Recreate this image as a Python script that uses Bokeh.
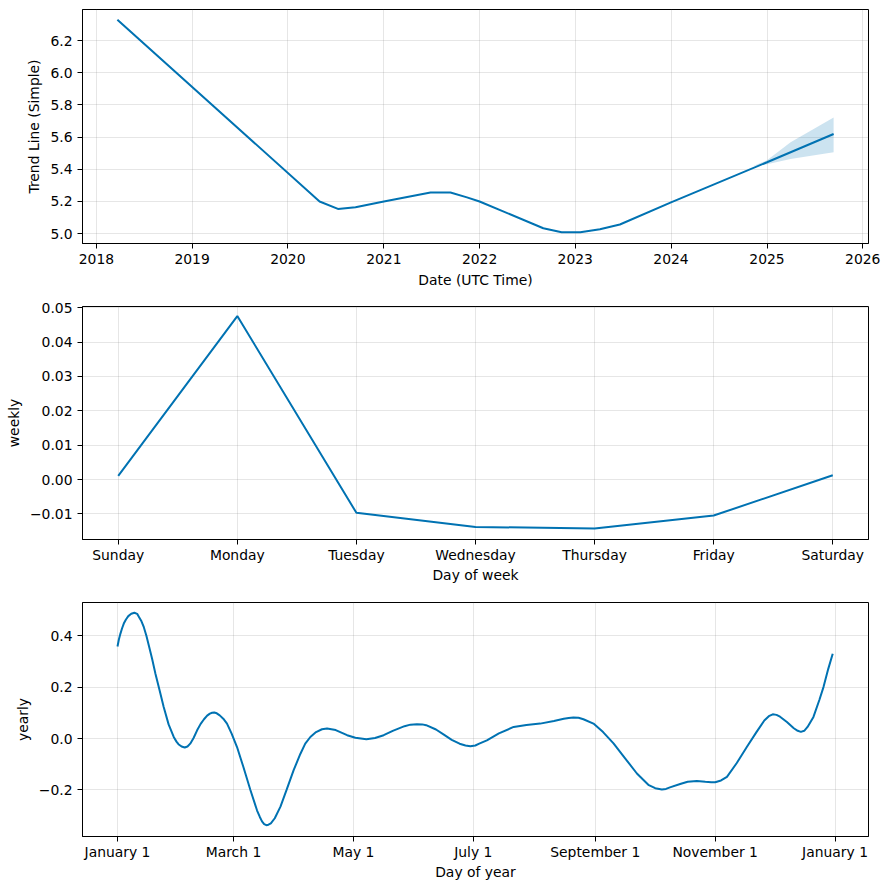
import pandas as pd
from bokeh.plotting import figure
from bokeh.layouts import column
from bokeh.models import FixedTicker, Range1d, DatetimeTickFormatter
from bokeh.embed import file_html
from bokeh.resources import INLINE

# ---------------- data ----------------
trend_dates = ["2018-03-22", "2020-05-01", "2020-07-10", "2020-09-15", "2021-01-01",
               "2021-06-28", "2021-09-12", "2021-11-14", "2022-01-01", "2022-09-01",
               "2022-11-10", "2023-01-20", "2023-04-05", "2023-06-20", "2024-01-01",
               "2025-01-01", "2025-09-12"]
trend_values = [6.330, 5.199, 5.153, 5.163, 5.199,
                5.255, 5.255, 5.225, 5.199, 5.033,
                5.008, 5.008, 5.027, 5.056, 5.194,
                5.443, 5.619]

band_dates = ["2024-11-10", "2025-01-01", "2025-04-01", "2025-09-12"]
band_upper = [5.420, 5.455, 5.567, 5.722]
band_lower = [5.420, 5.430, 5.464, 5.505]

year_ticks = [2018, 2019, 2020, 2021, 2022, 2023, 2024, 2025, 2026]
trend_y_ticks = [5.0, 5.2, 5.4, 5.6, 5.8, 6.0, 6.2]
trend_y_labels = ["5.0", "5.2", "5.4", "5.6", "5.8", "6.0", "6.2"]

weekdays = ["Sunday", "Monday", "Tuesday", "Wednesday", "Thursday", "Friday", "Saturday"]
weekly_values = [0.00105, 0.0476, -0.0097, -0.0138, -0.0143, -0.0105, 0.00125]
weekly_y_ticks = [-0.01, 0.0, 0.01, 0.02, 0.03, 0.04, 0.05]
weekly_y_labels = ["\u22120.01", "0.00", "0.01", "0.02", "0.03", "0.04", "0.05"]

yearly_days = [0, 0.7, 1.5, 2.3, 3.2, 4.3, 5.5, 7, 8.6, 10, 11, 12.2, 13.4, 14.7, 16, 17.6,
               19.3, 21.5, 23.5, 26, 28.6, 30, 31, 32.6, 34.2, 35.6, 37, 38.7, 40.5, 42.3,
               44, 45.6, 47, 48.1, 49.2, 50.5, 52, 53.8, 55.7, 58, 60.8, 64, 67.6, 71,
               72.4, 73.5, 74.6, 75.7, 76.8, 78, 80, 82.9, 86, 89.6, 93, 95.5, 98.1, 101,
               104, 106.6, 111, 116.8, 121, 126.6, 131, 135.4, 140, 146, 149, 152.3, 155,
               157, 162, 166, 170, 174, 177, 179.5, 182, 184, 187.9, 194, 201.5, 208, 215,
               222, 227, 229.5, 231.9, 234.5, 237, 242.1, 247, 252.3, 258, 264.2, 270,
               273.5, 276.9, 279, 281, 286.2, 290, 294.7, 299, 302, 304, 307, 310, 315,
               320.1, 325, 329, 331.3, 333.3, 335.2, 337, 340.5, 344, 346, 347.6, 349.3,
               351, 354, 357, 359.1, 361.5, 363.8]
yearly_values = [0.358, 0.385, 0.408, 0.428, 0.447, 0.463, 0.476, 0.485, 0.489, 0.485,
                 0.472, 0.456, 0.433, 0.40, 0.36, 0.31, 0.252, 0.185, 0.123, 0.055, 0.006,
                 -0.012, -0.022, -0.031, -0.035, -0.031, -0.02, 0.002, 0.032, 0.057, 0.075,
                 0.089, 0.097, 0.100, 0.101, 0.098, 0.09, 0.077, 0.058, 0.02, -0.033,
                 -0.11, -0.2, -0.28, -0.305, -0.322, -0.333, -0.337, -0.335, -0.33, -0.31,
                 -0.265, -0.2, -0.123, -0.06, -0.02, 0.006, 0.025, 0.036, 0.039, 0.033,
                 0.013, 0.003, -0.003, 0.002, 0.013, 0.03, 0.048, 0.054, 0.056, 0.055,
                 0.052, 0.035, 0.015, -0.005, -0.02, -0.027, -0.030, -0.027, -0.02,
                 -0.007, 0.02, 0.045, 0.053, 0.058, 0.068, 0.077, 0.080, 0.082, 0.081,
                 0.075, 0.058, 0.025, -0.019, -0.075, -0.136, -0.18, -0.193, -0.198,
                 -0.196, -0.19, -0.177, -0.168, -0.165, -0.168, -0.170, -0.170, -0.163,
                 -0.149, -0.095, -0.033, 0.025, 0.07, 0.087, 0.094, 0.092, 0.085, 0.064,
                 0.04, 0.03, 0.026, 0.030, 0.045, 0.084, 0.15, 0.2, 0.27, 0.330]
yearly_tick_days = [0, 59, 120, 181, 243, 304, 365]
yearly_tick_labels = ["January 1", "March 1", "May 1", "July 1", "September 1",
                      "November 1", "January 1"]
yearly_y_ticks = [-0.2, 0.0, 0.2, 0.4]
yearly_y_labels = ["\u22120.2", "0.0", "0.2", "0.4"]

# ---------------- styling ----------------
BLUE = "#0072B2"
FONT = "DejaVu Sans"
FS = "13.9px"


def style(p, label_standoff=5, title_standoff=5):
    p.outline_line_color = "black"
    p.outline_line_width = 1
    p.outline_line_alpha = 1
    p.background_fill_color = "white"
    p.border_fill_color = "white"
    for ax in list(p.xaxis) + list(p.yaxis):
        ax.axis_line_color = "black"
        ax.axis_line_width = 1
        ax.major_tick_out = 5
        ax.major_tick_in = 0
        ax.minor_tick_out = 0
        ax.minor_tick_in = 0
        ax.major_tick_line_color = "black"
        ax.major_label_text_font = FONT
        ax.major_label_text_font_size = FS
        ax.major_label_text_color = "black"
        ax.major_label_standoff = 5
        ax.axis_label_text_font = FONT
        ax.axis_label_text_font_size = FS
        ax.axis_label_text_font_style = "normal"
        ax.axis_label_text_color = "black"
        ax.axis_label_standoff = 5
    for ax in p.xaxis:
        ax.major_label_standoff = label_standoff
        ax.axis_label_standoff = title_standoff
    for g in p.grid:
        g.grid_line_color = "gray"
        g.grid_line_alpha = 0.2
        g.grid_line_width = 1


FW = 786
LB = 82
RB = 13

# ---- panel 1: trend ----
td = pd.to_datetime(trend_dates)
bd = pd.to_datetime(band_dates)
p1 = figure(frame_width=FW, frame_height=234, x_axis_type="datetime", output_backend="svg",
            toolbar_location=None, min_border_left=LB, min_border_right=RB,
            min_border_top=9, min_border_bottom=47,
            x_range=Range1d(pd.Timestamp("2017-11-09"), pd.Timestamp("2026-01-23")),
            y_range=Range1d(4.938, 6.393))
p1.varea(x=bd, y1=band_lower, y2=band_upper, fill_color=BLUE, fill_alpha=0.2)
p1.line(td, trend_values, line_color=BLUE, line_width=2)
year_ms = [pd.Timestamp(f"{y}-01-01").value / 1e6 for y in year_ticks]
p1.xaxis.ticker = FixedTicker(ticks=year_ms)
p1.xaxis.formatter = DatetimeTickFormatter(years="%Y", months="%Y", days="%Y")
p1.yaxis.ticker = FixedTicker(ticks=trend_y_ticks)
p1.yaxis.major_label_overrides = dict(zip(trend_y_ticks, trend_y_labels))
p1.xaxis.axis_label = "Date (UTC Time)"
p1.yaxis.axis_label = "Trend Line (Simple)"
style(p1)

# ---- panel 2: weekly ----
wx = list(range(len(weekdays)))
p2 = figure(frame_width=FW, frame_height=233, output_backend="svg", toolbar_location=None,
            min_border_left=LB, min_border_right=RB, min_border_top=16,
            min_border_bottom=47,
            x_range=Range1d(-0.3, 6.3), y_range=Range1d(-0.01747, 0.05038))
p2.line(wx, weekly_values, line_color=BLUE, line_width=2)
p2.xaxis.ticker = FixedTicker(ticks=wx)
p2.xaxis.major_label_overrides = {i: d for i, d in zip(wx, weekdays)}
p2.yaxis.ticker = FixedTicker(ticks=weekly_y_ticks)
p2.yaxis.major_label_overrides = dict(zip(weekly_y_ticks, weekly_y_labels))
p2.xaxis.axis_label = "Day of week"
p2.yaxis.axis_label = "weekly"
style(p2, label_standoff=2, title_standoff=1)

# ---- panel 3: yearly ----
p3 = figure(frame_width=FW, frame_height=234, output_backend="svg", toolbar_location=None,
            min_border_left=LB, min_border_right=RB, min_border_top=16,
            min_border_bottom=47,
            x_range=Range1d(-17.8, 382.0), y_range=Range1d(-0.381, 0.529))
p3.line(yearly_days, yearly_values, line_color=BLUE, line_width=2)
p3.xaxis.ticker = FixedTicker(ticks=yearly_tick_days)
p3.xaxis.major_label_overrides = {d: l for d, l in zip(yearly_tick_days, yearly_tick_labels)}
p3.yaxis.ticker = FixedTicker(ticks=yearly_y_ticks)
p3.yaxis.major_label_overrides = dict(zip(yearly_y_ticks, yearly_y_labels))
p3.xaxis.axis_label = "Day of year"
p3.yaxis.axis_label = "yearly"
style(p3, label_standoff=2, title_standoff=1)

layout = column(p1, p2, p3, spacing=0)
open("out.html", "w").write(file_html(layout, INLINE))
